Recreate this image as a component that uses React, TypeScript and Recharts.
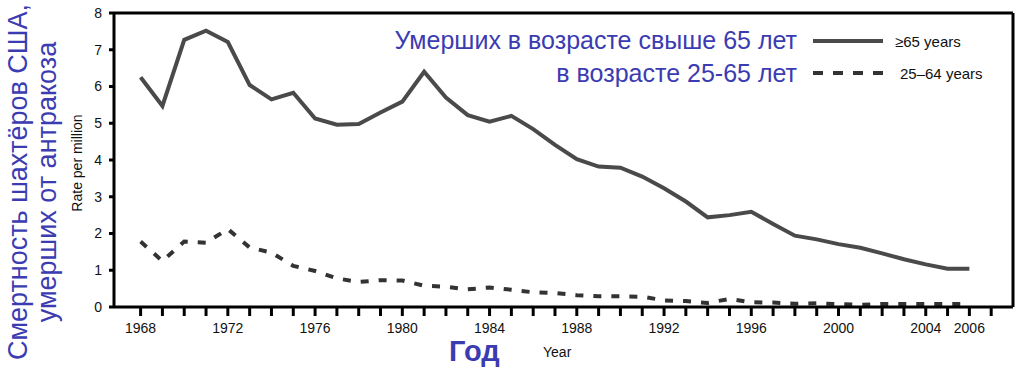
import React from 'react';
import { LineChart, Line, XAxis, YAxis, ReferenceLine } from 'recharts';

// Годы наблюдения
const years = [
  1968, 1969, 1970, 1971, 1972, 1973, 1974, 1975, 1976, 1977,
  1978, 1979, 1980, 1981, 1982, 1983, 1984, 1985, 1986, 1987,
  1988, 1989, 1990, 1991, 1992, 1993, 1994, 1995, 1996, 1997,
  1998, 1999, 2000, 2001, 2002, 2003, 2004, 2005, 2006,
];

// ≥65 years (сплошная линия)
const over65 = [
  6.25, 5.47, 7.27, 7.52, 7.21, 6.04, 5.65, 5.83, 5.13, 4.96,
  4.98, 5.29, 5.59, 6.40, 5.70, 5.22, 5.04, 5.20, 4.84, 4.41,
  4.02, 3.82, 3.79, 3.55, 3.23, 2.87, 2.44, 2.50, 2.59, 2.26,
  1.94, 1.84, 1.71, 1.61, 1.46, 1.30, 1.16, 1.04, 1.04,
];

// 25–64 years (пунктир)
const age25to64 = [
  1.78, 1.25, 1.78, 1.75, 2.12, 1.62, 1.48, 1.12, 0.98, 0.78,
  0.68, 0.73, 0.72, 0.58, 0.55, 0.48, 0.53, 0.47, 0.40, 0.38,
  0.32, 0.29, 0.29, 0.28, 0.18, 0.16, 0.11, 0.22, 0.13, 0.12,
  0.09, 0.10, 0.08, 0.06, 0.08, 0.08, 0.08, 0.08, 0.08,
];

// Деления оси X (каждый год) и подписанные годы
const tickYears = [
  1968, 1969, 1970, 1971, 1972, 1973, 1974, 1975, 1976, 1977,
  1978, 1979, 1980, 1981, 1982, 1983, 1984, 1985, 1986, 1987,
  1988, 1989, 1990, 1991, 1992, 1993, 1994, 1995, 1996, 1997,
  1998, 1999, 2000, 2001, 2002, 2003, 2004, 2005, 2006, 2007,
];
const labeledYears = [1968, 1972, 1976, 1980, 1984, 1988, 1992, 1996, 2000, 2004, 2006];
const yTicks = [0, 1, 2, 3, 4, 5, 6, 7, 8];

const data = years.map((year, i) => ({ year, over65: over65[i], age25to64: age25to64[i] }));

const FONT = 'Arial, "Liberation Sans", Helvetica, sans-serif';
const BLUE = '#3b3bb2';

const SERIES = [
  { key: 'over65', name: '≥65 years', stroke: '#4a4a4a', dash: undefined as string | undefined },
  { key: 'age25to64', name: '25–64 years', stroke: '#333333', dash: '10 10' },
];

// легенда справа сверху, внутри рамки
const LegendBox = () => (
  <div style={{ position: 'absolute', left: 813, top: 25, fontFamily: FONT, fontSize: 15, color: '#111' }}>
    {SERIES.map((s, i) => (
      <div key={s.key} style={{ display: 'flex', alignItems: 'center', height: 32 }}>
        <svg width={70} height={8} style={{ marginRight: i === 0 ? 12 : 17 }}>
          <line x1={0} y1={4} x2={70} y2={4} stroke={s.stroke} strokeWidth={4} strokeDasharray={s.dash} />
        </svg>
        <span>{s.name}</span>
      </div>
    ))}
  </div>
);

export default function App() {
  return (
    <div style={{ position: 'absolute', left: 0, top: 0, width: 1024, height: 371, background: '#fff', fontFamily: FONT }}>
      <LineChart width={1024} height={371} data={data} margin={{ top: 13, right: 11, bottom: 24, left: 0 }}>
        <XAxis
          dataKey="year"
          type="number"
          domain={[1966.78, 2008]}
          ticks={tickYears}
          interval={0}
          allowDataOverflow
          height={40}
          tickSize={9}
          tickMargin={7}
          axisLine={{ stroke: '#000', strokeWidth: 3 }}
          tickLine={{ stroke: '#000', strokeWidth: 3 }}
          tick={{ fontSize: 14, fill: '#111', fontFamily: FONT }}
          tickFormatter={(v) => (labeledYears.includes(Number(v)) ? String(v) : '')}
        />
        <YAxis
          domain={[0, 8]}
          ticks={yTicks}
          width={114}
          tickSize={5}
          tickMargin={7}
          axisLine={{ stroke: '#000', strokeWidth: 3 }}
          tickLine={{ stroke: '#000', strokeWidth: 3 }}
          tick={{ fontSize: 14, fill: '#111', fontFamily: FONT }}
        />
        {/* рамка сверху и справа */}
        <ReferenceLine y={8} stroke="#000" strokeWidth={3} />
        <ReferenceLine x={2008} stroke="#000" strokeWidth={3} />

        {SERIES.map((s) => (
          <Line
            key={s.key}
            type="linear"
            dataKey={s.key}
            name={s.name}
            stroke={s.stroke}
            strokeWidth={4}
            strokeDasharray={s.dash === undefined ? undefined : '8 10'}
            dot={false}
            activeDot={false}
            isAnimationActive={false}
          />
        ))}
      </LineChart>

      <LegendBox />

      {/* подписи на русском */}
      <div style={{ position: 'absolute', right: 227, top: 26, fontSize: 25, lineHeight: '28px', color: BLUE, whiteSpace: 'nowrap' }}>
        Умерших в возрасте свыше 65 лет
      </div>
      <div style={{ position: 'absolute', right: 227, top: 59, fontSize: 25, lineHeight: '28px', color: BLUE, whiteSpace: 'nowrap' }}>
        в возрасте 25-65 лет
      </div>
      <div
        style={{
          position: 'absolute', left: 33 - 200, top: 182 - 29, width: 400, height: 58,
          transform: 'rotate(-90deg)', textAlign: 'center', fontSize: 27, lineHeight: '29px', color: BLUE, whiteSpace: 'nowrap',
        }}
      >
        Смертность шахтёров США,
        <br />
        умерших от антракоза
      </div>
      <div
        style={{
          position: 'absolute', left: 77 - 60, top: 163 - 8, width: 120, height: 16,
          transform: 'rotate(-90deg)', textAlign: 'center', fontSize: 14, lineHeight: '16px', color: '#111',
        }}
      >
        Rate per million
      </div>
      <div style={{ position: 'absolute', left: 449, top: 334, fontSize: 29, lineHeight: '34px', fontWeight: 'bold', color: BLUE }}>
        Год
      </div>
      <div style={{ position: 'absolute', left: 543, top: 344, fontSize: 14, lineHeight: '16px', color: '#111' }}>
        Year
      </div>
    </div>
  );
}
